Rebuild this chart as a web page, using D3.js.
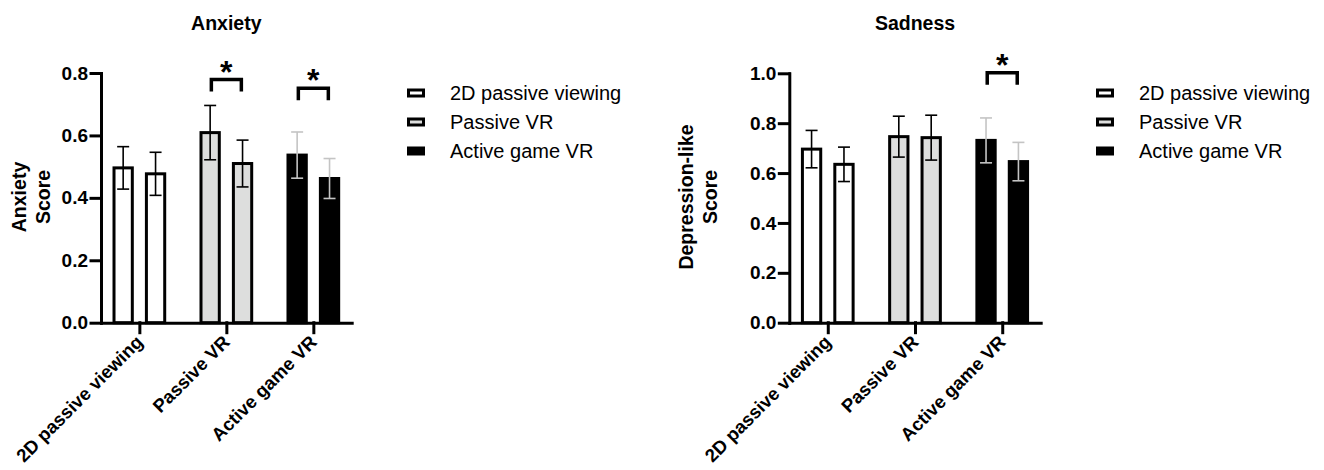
<!DOCTYPE html>
<meta charset="utf-8">
<style>
body { margin: 0; background: #fff; }
svg { font-family: "Liberation Sans", Arial, sans-serif; }
.axis path, .axis line { stroke: #000; stroke-width: 3; stroke-linecap: square; }
.axis text { font-size: 19px; font-weight: bold; fill: #000; }
.title, .ylabel { font-size: 19.5px; font-weight: bold; }
.xlabel { font-size: 18.5px; font-weight: bold; }
.legend text { font-size: 20px; }
</style>
<svg width="1324" height="470"></svg>
<script src="https://d3js.org/d3.v7.min.js"></script>
<script>

// groups on the x axis, each has a before / after bar
var categories = ["2D passive viewing", "Passive VR", "Active game VR"];
var timepoints = ["pre", "post"];
var fills = ["#ffffff", "#dddedd", "#000000"];
var errColors = ["#000000", "#000000", "#c4c4c4"];

var anxietyPre = [0.496, 0.609, 0.537];
var anxietyPreErr = [0.068, 0.087, 0.074];
var anxietyPost = [0.477, 0.510, 0.462];
var anxietyPostErr = [0.069, 0.075, 0.064];
var anxietyTicks = [0, 0.2, 0.4, 0.6, 0.8];
var anxietySig = [{cat: "Passive VR", top: 0.779}, {cat: "Active game VR", top: 0.751}];

var sadnessPre = [0.696, 0.746, 0.731];
var sadnessPreErr = [0.075, 0.082, 0.090];
var sadnessPost = [0.635, 0.742, 0.646];
var sadnessPostErr = [0.069, 0.090, 0.077];
var sadnessTicks = [0, 0.2, 0.4, 0.6, 0.8, 1.0];
var sadnessSig = [{cat: "Active game VR", top: 1.002}];

var svg = d3.select("svg");

function drawPanel(p) {
  var x = d3.scalePoint().domain(categories).range([p.left, p.right]).padding(0.441);
  var inner = d3.scaleBand().domain(timepoints).range([-25.35, 25.35]).paddingInner(0.435);
  var y = d3.scaleLinear().domain([0, p.max]).range([322.7, p.top]);

  var rows = [];
  categories.forEach(function(c, i) {
    rows.push({cat: c, i: i, tp: "pre", v: p.pre[i], e: p.preErr[i]});
    rows.push({cat: c, i: i, tp: "post", v: p.post[i], e: p.postErr[i]});
  });

  var g = svg.append("g");

  g.selectAll(".bar")
    .data(rows)
    .enter().append("rect")
      .attr("class", "bar")
      .attr("x", function(d) { return x(d.cat) + inner(d.tp); })
      .attr("y", function(d) { return y(d.v); })
      .attr("width", inner.bandwidth())
      .attr("height", function(d) { return y(0) - y(d.v); })
      .attr("fill", function(d) { return fills[d.i]; })
      .attr("stroke", "#000")
      .attr("stroke-width", 3);

  var eb = g.selectAll(".err")
    .data(rows)
    .enter().append("g")
      .attr("class", "err")
      .attr("transform", function(d) { return "translate(" + (x(d.cat) + inner(d.tp) + inner.bandwidth() / 2) + ",0)"; })
      .attr("stroke", function(d) { return errColors[d.i]; })
      .attr("stroke-width", 1.6);
  eb.append("line")
      .attr("y1", function(d) { return y(d.v - d.e); })
      .attr("y2", function(d) { return y(d.v + d.e); });
  eb.append("line")
      .attr("x1", -6).attr("x2", 6)
      .attr("y1", function(d) { return y(d.v + d.e); })
      .attr("y2", function(d) { return y(d.v + d.e); });
  eb.append("line")
      .attr("x1", -6).attr("x2", 6)
      .attr("y1", function(d) { return y(d.v - d.e); })
      .attr("y2", function(d) { return y(d.v - d.e); });

  g.append("g")
      .attr("class", "axis")
      .attr("transform", "translate(0," + y(0) + ")")
      .call(d3.axisBottom(x).tickSize(10).tickSizeOuter(0).tickFormat(""));

  g.append("g")
      .attr("class", "axis")
      .attr("transform", "translate(" + p.left + ",0)")
      .call(d3.axisLeft(y).tickValues(p.ticks).tickSize(10).tickSizeOuter(0).tickPadding(3).tickFormat(d3.format(".1f")));

  g.selectAll(".xlabel")
    .data(categories)
    .enter().append("text")
      .attr("class", "xlabel")
      .attr("transform", function(d) { return "translate(" + x(d) + "," + (y(0) + 16) + ") rotate(-45)"; })
      .attr("dy", "0.35em")
      .attr("text-anchor", "end")
      .text(function(d) { return d; });

  // significance brackets
  var s = g.selectAll(".sig")
    .data(p.sig)
    .enter().append("g")
      .attr("class", "sig");
  s.append("path")
      .attr("d", function(d) {
        var cx = x(d.cat), t = y(d.top);
        return "M" + (cx - 15) + "," + (t + 12) + "V" + t + "H" + (cx + 15) + "V" + (t + 12);
      })
      .attr("fill", "none")
      .attr("stroke", "#000")
      .attr("stroke-width", 3.5);
  s.append("text")
      .attr("x", function(d) { return x(d.cat); })
      .attr("y", function(d) { return y(d.top) + 3; })
      .attr("text-anchor", "middle")
      .attr("font-size", 32)
      .attr("font-weight", "bold")
      .text("*");

  g.append("text")
      .attr("class", "title")
      .attr("x", (p.left + p.right) / 2)
      .attr("y", 30)
      .attr("text-anchor", "middle")
      .text(p.title);

  var yl = g.append("text")
      .attr("class", "ylabel")
      .attr("transform", "translate(" + p.ylabX + ",197) rotate(-90)")
      .attr("text-anchor", "middle");
  p.ylabel.forEach(function(line, k) {
    yl.append("tspan").attr("x", 0).attr("dy", k ? 24 : 0).text(line);
  });

  var leg = g.append("g")
      .attr("class", "legend")
      .attr("transform", "translate(" + p.legX + ",0)");
  var items = leg.selectAll("g")
    .data(categories)
    .enter().append("g")
      .attr("transform", function(d, i) { return "translate(0," + [93, 122, 151][i] + ")"; });
  items.append("rect")
      .attr("x", 1.5).attr("y", -3)
      .attr("width", 15).attr("height", 6)
      .attr("fill", function(d, i) { return fills[i]; })
      .attr("stroke", "#000")
      .attr("stroke-width", 3);
  items.append("text")
      .attr("x", 43)
      .attr("dy", "0.35em")
      .text(function(d) { return d; });
}

drawPanel({
  title: "Anxiety", ylabel: ["Anxiety", "Score"], ylabX: 26,
  left: 101, right: 351.7, top: 73, max: 0.8, ticks: anxietyTicks,
  pre: anxietyPre, preErr: anxietyPreErr, post: anxietyPost, postErr: anxietyPostErr,
  sig: anxietySig, legX: 407
});

drawPanel({
  title: "Sadness", ylabel: ["Depression-like", "Score"], ylabX: 693,
  left: 789.3, right: 1040.7, top: 73.3, max: 1.0, ticks: sadnessTicks,
  pre: sadnessPre, preErr: sadnessPreErr, post: sadnessPost, postErr: sadnessPostErr,
  sig: sadnessSig, legX: 1096
});

</script>
